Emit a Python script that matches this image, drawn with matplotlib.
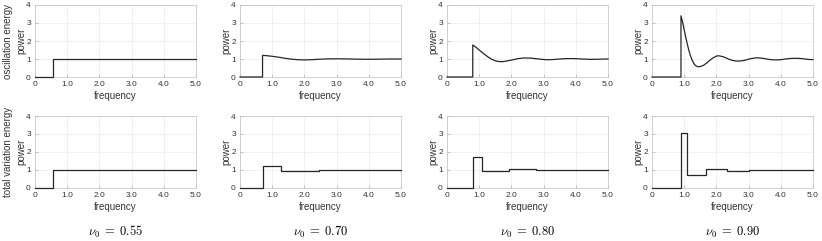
import matplotlib
matplotlib.use('Agg')
import matplotlib.pyplot as plt

# ===== DATA =====
NU0 = [0.55, 0.70, 0.80, 0.90]

# oscillation energy (top row), sampled points of each curve
osc_x = [
    [0, 0.55, 0.55, 5.0],
    [0, 0.70, 0.70, 0.8, 1.0, 1.2, 1.4, 1.6, 1.8, 2.0, 2.2, 2.5, 2.8, 3.1, 3.4, 3.7, 4.0, 4.3, 4.6, 5.0],
    [0, 0.80, 0.80, 0.9, 1.0, 1.1, 1.2, 1.3, 1.4, 1.5, 1.6, 1.7, 1.8, 2.0, 2.2, 2.4, 2.6, 2.8, 3.0, 3.1,
     3.3, 3.5, 3.7, 3.9, 4.1, 4.3, 4.5, 4.7, 4.9, 5.0],
    [0, 0.90, 0.90, 0.95, 1.0, 1.05, 1.1, 1.15, 1.2, 1.25, 1.3, 1.35, 1.4, 1.45, 1.5, 1.6, 1.7, 1.8,
     1.9, 2.0, 2.05, 2.1, 2.2, 2.3, 2.4, 2.5, 2.65, 2.8, 2.9, 3.0, 3.1, 3.25, 3.4, 3.5, 3.6, 3.7,
     3.85, 4.0, 4.1, 4.2, 4.3, 4.45, 4.6, 4.7, 4.8, 4.9, 5.0],
]
osc_y = [
    [0, 0, 1.0, 1.0],
    [0, 0, 1.2, 1.19, 1.15, 1.10, 1.04, 0.99, 0.96, 0.95, 0.96, 0.99, 1.01, 1.01, 1.0, 0.99, 0.985, 0.99, 1.0, 1.0],
    [0, 0, 1.78, 1.65, 1.50, 1.35, 1.21, 1.08, 0.98, 0.90, 0.86, 0.85, 0.87, 0.94, 1.02, 1.06, 1.05, 1.01, 0.97, 0.96,
     0.97, 1.0, 1.02, 1.025, 1.01, 0.99, 0.98, 0.985, 1.0, 1.0],
    [0, 0, 3.40, 3.05, 2.62, 2.20, 1.80, 1.45, 1.15, 0.92, 0.75, 0.64, 0.59, 0.57, 0.58, 0.65, 0.78, 0.93,
     1.07, 1.16, 1.18, 1.17, 1.13, 1.06, 0.98, 0.92, 0.88, 0.90, 0.94, 0.99, 1.03, 1.07, 1.05, 1.02, 0.99, 0.96,
     0.95, 0.96, 0.99, 1.01, 1.03, 1.04, 1.03, 1.01, 0.99, 0.97, 0.97],
]

# total variation energy (bottom row), step edges and levels
tv_x = [
    [0, 0.55, 5.0],
    [0, 0.70, 1.27, 2.44, 3.62, 5.0],
    [0, 0.80, 1.10, 1.91, 2.76, 3.64, 4.52, 5.0],
    [0, 0.90, 1.10, 1.68, 2.34, 3.00, 3.70, 4.40, 5.0],
]
tv_y = [
    [0, 1.0, 1.0],
    [0, 1.20, 0.97, 1.0, 0.98, 0.98],
    [0, 1.72, 0.95, 1.03, 0.99, 1.01, 0.99, 0.99],
    [0, 3.03, 0.73, 1.07, 0.96, 1.02, 0.98, 1.0, 1.0],
]

XTICKS = [0, 1, 2, 3, 4, 5]
XTICKLABELS = ['0', '1.0', '2.0', '3.0', '4.0', '5.0']
YTICKS = [0, 1, 2, 3, 4]
ROW_LABELS = ['oscillation energy', 'total variation energy']

plt.rcParams['font.family'] = ['Liberation Sans', 'DejaVu Sans']
plt.rcParams['mathtext.fontset'] = 'cm'

W, H = 822, 241
fig = plt.figure(figsize=(W / 100, H / 100), dpi=100)

lefts = [35, 240, 447, 652]
tops = [5, 116]
aw, ah = 161, 72
txt = '#333333'

for r in range(2):
    for c in range(4):
        ax = fig.add_axes([lefts[c] / W, 1 - (tops[r] + ah) / H, aw / W, ah / H])
        if r == 0:
            ax.plot(osc_x[c], osc_y[c], color='#262626', lw=0.9, zorder=3, clip_on=False)
        else:
            ax.plot(tv_x[c], tv_y[c], color='#262626', lw=0.9, drawstyle='steps-post',
                    zorder=3, clip_on=False)
        ax.set_xlim(0, 5)
        ax.set_ylim(0, 4)
        ax.set_xticks(XTICKS)
        ax.set_xticklabels(XTICKLABELS)
        ax.set_yticks(YTICKS)
        ax.tick_params(direction='in', length=2, width=0.5, labelsize=6,
                       colors='#b0b0b0', labelcolor=txt, pad=3)
        ax.grid(True, color='#ebebeb', lw=0.5)
        ax.set_axisbelow(True)
        for s in ax.spines.values():
            s.set_color('#c0c0c0')
            s.set_linewidth(0.5)
        ax.set_xlabel('frequency', fontsize=7, color=txt, labelpad=2)
        ax.set_ylabel('power', fontsize=7, color=txt, labelpad=0)
        if r == 1:
            fig.text((lefts[c] + aw / 2) / W, 1 - 232 / H, r'$\nu_0\;=\;%.2f$' % NU0[c],
                     ha='center', va='center', fontsize=9)

for r in range(2):
    fig.text(8 / W, 1 - (tops[r] + ah / 2) / H, ROW_LABELS[r], rotation=90,
             ha='center', va='center', fontsize=7, color=txt)

fig.savefig('out.png', dpi=100)
